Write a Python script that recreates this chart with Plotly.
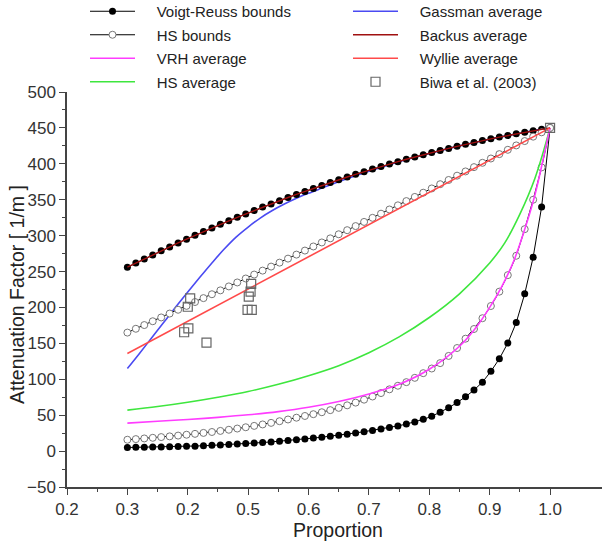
import plotly.graph_objects as go

# Sampling grid of the bound curves (proportion)
PROPORTION = [0.300, 0.314, 0.328, 0.342, 0.356, 0.370, 0.384, 0.398, 0.412, 0.426,
              0.440, 0.454, 0.468, 0.482, 0.496, 0.510, 0.524, 0.538, 0.552, 0.566,
              0.580, 0.594, 0.608, 0.622, 0.636, 0.650, 0.664, 0.678, 0.692, 0.706,
              0.720, 0.734, 0.748, 0.762, 0.776, 0.790, 0.804, 0.818, 0.832, 0.846,
              0.860, 0.874, 0.888, 0.902, 0.916, 0.930, 0.944, 0.958, 0.972, 0.986,
              1.000]

VOIGT_UPPER = [256.0, 261.8, 267.6, 273.2, 278.8, 284.3, 289.8, 295.1, 300.4, 305.6,
               310.7, 315.7, 320.6, 325.5, 330.3, 335.0, 339.7, 344.2, 348.7, 353.1,
               357.4, 361.6, 365.8, 369.9, 373.9, 377.8, 381.6, 385.4, 389.1, 392.7,
               396.2, 399.6, 403.0, 406.3, 409.5, 412.6, 415.7, 418.6, 421.5, 424.3,
               427.1, 429.7, 432.3, 434.8, 437.2, 439.5, 441.8, 443.9, 446.0, 448.1,
               450.0]

REUSS_LOWER = [5.0, 5.2, 5.4, 5.6, 5.8, 6.0, 6.3, 6.6, 6.9, 7.4,
               8.0, 8.5, 9.1, 9.7, 10.4, 11.1, 11.9, 12.8, 13.7, 14.7,
               15.8, 16.9, 18.1, 19.4, 20.7, 22.0, 23.6, 25.3, 27.0, 28.8,
               30.7, 32.8, 35.1, 37.6, 40.6, 44.2, 48.4, 54.0, 60.3, 67.6,
               75.6, 85.0, 96.0, 111.0, 128.5, 150.5, 179.0, 219.0, 270.0, 340.0,
               450.0]

HS_UPPER = [165.0, 170.3, 175.5, 180.8, 186.1, 191.5, 196.8, 202.2, 207.6, 213.0,
            218.4, 223.8, 229.3, 234.8, 240.3, 245.8, 251.3, 256.9, 262.4, 268.0,
            273.6, 279.2, 284.9, 290.5, 296.2, 301.9, 307.6, 313.3, 319.1, 324.8,
            330.6, 336.4, 342.2, 348.1, 353.9, 359.8, 365.7, 371.6, 377.5, 383.5,
            389.4, 395.4, 401.4, 407.4, 413.5, 419.5, 425.6, 431.7, 437.8, 443.9,
            450.0]

HS_LOWER = [15.8, 16.7, 17.6, 18.5, 19.5, 20.5, 21.6, 22.8, 24.0, 25.3,
            26.6, 28.1, 29.7, 31.4, 33.2, 35.1, 37.1, 39.3, 41.6, 44.0,
            46.5, 48.9, 51.4, 54.1, 57.0, 60.2, 63.7, 67.5, 71.6, 76.0,
            80.8, 86.0, 91.0, 96.0, 102.0, 108.5, 115.0, 122.5, 132.5, 143.5,
            156.5, 170.0, 185.0, 202.0, 222.0, 245.0, 272.0, 309.0, 350.0, 395.0,
            450.0]

# Averages (smooth lines)
VRH_X = [0.30, 0.35, 0.40, 0.45, 0.50, 0.55, 0.60, 0.65, 0.70, 0.75, 0.80, 0.85,
         0.88, 0.90, 0.92, 0.94, 0.96, 0.975, 0.99, 1.00]
VRH_Y = [39.0, 41.5, 44.0, 47.0, 50.5, 55.0, 61.0, 69.0, 79.5, 93.0, 114.0, 146.0,
         175.0, 200.0, 229.0, 265.0, 314.0, 357.0, 412.0, 450.0]

HSAVG_X = [0.30, 0.35, 0.40, 0.45, 0.50, 0.55, 0.60, 0.65, 0.70, 0.75, 0.80, 0.85,
           0.90, 0.925, 0.95, 0.975, 1.00]
HSAVG_Y = [57.0, 62.0, 68.0, 75.0, 83.0, 93.0, 105.0, 119.0, 137.0, 159.0, 186.0, 219.0,
           262.0, 290.0, 330.0, 380.0, 450.0]

GASSMAN_X = [0.30, 0.32, 0.34, 0.36, 0.38, 0.40, 0.42, 0.44, 0.46, 0.48, 0.50, 0.52,
             0.54, 0.56, 0.58, 0.60, 0.62, 0.65, 0.70, 0.75, 0.80, 0.85, 0.90, 0.95, 1.00]
GASSMAN_Y = [115.0, 136.0, 157.5, 179.0, 200.5, 221.5, 242.0, 262.0, 281.0, 298.0, 312.0,
             324.5, 335.0, 344.0, 352.0, 359.0, 365.5, 375.0, 389.5, 403.0, 414.5, 425.0,
             434.3, 442.6, 450.0]

BACKUS_Y = VOIGT_UPPER

WYLLIE_X = [0.30, 0.65, 1.00]
WYLLIE_Y = [136.0, 293.0, 450.0]

# Biwa et al. (2003) measurements
BIWA_X = [0.404, 0.400, 0.401, 0.394, 0.431, 0.505, 0.504, 0.501, 0.499, 0.506, 1.000]
BIWA_Y = [212.7, 201.0, 171.0, 165.5, 151.0, 232.7, 222.0, 215.0, 196.5, 196.5, 450.0]

X_TICKS = [0.2, 0.3, 0.4, 0.5, 0.6, 0.7, 0.8, 0.9, 1.0]
X_TICK_TEXT = ["0.2", "0.3", "0.2", "0.5", "0.6", "0.7", "0.8", "0.9", "1.0"]
X_MINOR = [0.25, 0.35, 0.45, 0.55, 0.65, 0.75, 0.85, 0.95]

FONT = "Liberation Sans, Arial, sans-serif"
AXIS_COLOR = "#444444"
GAP = "\u00a0" * 4  # extra room between legend glyph and label

# figure geometry (pixels)
W, H = 602, 545
M_L, M_R, M_T, M_B = 67, 0, 92, 58
PLOT_W = W - M_L - M_R
PLOT_H = H - M_T - M_B


def label(text):
    return GAP + text


fig = go.Figure()

fig.add_trace(go.Scatter(
    x=GASSMAN_X, y=GASSMAN_Y, mode="lines", name=label("Gassman average"),
    line=dict(color="#4a4af2", width=1.6, shape="spline"),
    legend="legend2", legendrank=1, legendgroup="g"))

fig.add_trace(go.Scatter(
    x=PROPORTION, y=VOIGT_UPPER, mode="lines+markers", name=label("Voigt-Reuss bounds"),
    line=dict(color="black", width=1),
    marker=dict(symbol="circle", size=7, color="black"),
    legend="legend", legendrank=1, legendgroup="vr"))
fig.add_trace(go.Scatter(
    x=PROPORTION, y=REUSS_LOWER, mode="lines+markers", name=label("Voigt-Reuss bounds"),
    line=dict(color="black", width=1),
    marker=dict(symbol="circle", size=7, color="black"),
    legend="legend", legendgroup="vr", showlegend=False))

fig.add_trace(go.Scatter(
    x=PROPORTION, y=HS_UPPER, mode="lines+markers", name=label("HS bounds"),
    line=dict(color="black", width=1),
    marker=dict(symbol="circle", size=7, color="white",
                line=dict(color="#777777", width=1)),
    legend="legend", legendrank=2, legendgroup="hs"))
fig.add_trace(go.Scatter(
    x=PROPORTION, y=HS_LOWER, mode="lines+markers", name=label("HS bounds"),
    line=dict(color="black", width=1),
    marker=dict(symbol="circle", size=7, color="white",
                line=dict(color="#777777", width=1)),
    legend="legend", legendgroup="hs", showlegend=False))

fig.add_trace(go.Scatter(
    x=HSAVG_X, y=HSAVG_Y, mode="lines", name=label("HS average"),
    line=dict(color="#3ee63e", width=1.6, shape="spline"),
    legend="legend", legendrank=4, legendgroup="ha"))

fig.add_trace(go.Scatter(
    x=VRH_X, y=VRH_Y, mode="lines", name=label("VRH average"),
    line=dict(color="#ff3cff", width=1.6, shape="spline"),
    legend="legend", legendrank=3, legendgroup="vrh"))

fig.add_trace(go.Scatter(
    x=PROPORTION, y=BACKUS_Y, mode="lines", name=label("Backus average"),
    line=dict(color="#a01010", width=1.4),
    legend="legend2", legendrank=2, legendgroup="b"))

fig.add_trace(go.Scatter(
    x=WYLLIE_X, y=WYLLIE_Y, mode="lines", name=label("Wyllie average"),
    line=dict(color="#ff4a4a", width=1.6),
    legend="legend2", legendrank=3, legendgroup="w"))

fig.add_trace(go.Scatter(
    x=BIWA_X, y=BIWA_Y, mode="markers", name=label("Biwa et al. (2003)"),
    marker=dict(symbol="square-open", size=9, color="#666666",
                line=dict(width=1.2)),
    legend="legend2", legendrank=4, legendgroup="bw"))

legend_top = 1 + (M_T + 5) / PLOT_H
legend_common = dict(
    yref="paper", xanchor="left", yanchor="top",
    bgcolor="rgba(0,0,0,0)", borderwidth=0,
    font=dict(family=FONT, size=15, color="#222222"),
    tracegroupgap=1, itemwidth=45, traceorder="grouped",
)

title_font = dict(family=FONT, size=19.5, color="#222222")

fig.update_layout(
    width=W, height=H,
    margin=dict(l=M_L, r=M_R, t=M_T, b=M_B, autoexpand=False),
    paper_bgcolor="white", plot_bgcolor="white",
    font=dict(family=FONT, color="#333333"),
    showlegend=True,
    legend=dict(xref="container", x=85 / W, y=legend_top, **legend_common),
    legend2=dict(xref="container", x=348 / W, y=legend_top, **legend_common),
    xaxis=dict(
        range=[0.2, 1.086], tickmode="array", tickvals=X_TICKS, ticktext=X_TICK_TEXT,
        ticks="outside", ticklen=6, tickwidth=1.3, tickcolor=AXIS_COLOR,
        showline=True, linecolor=AXIS_COLOR, linewidth=1.5,
        showgrid=False, zeroline=False,
        tickfont=dict(family=FONT, size=17, color="#333333"),
        minor=dict(tickmode="array", tickvals=X_MINOR, ticks="outside",
                   ticklen=3, tickwidth=1.3, tickcolor=AXIS_COLOR, showgrid=False),
    ),
    yaxis=dict(
        range=[-50, 500], tickmode="linear", tick0=0, dtick=50,
        ticks="outside", ticklen=6, tickwidth=1.3, tickcolor=AXIS_COLOR,
        showline=True, linecolor=AXIS_COLOR, linewidth=1.5,
        showgrid=False, zeroline=False,
        tickfont=dict(family=FONT, size=17, color="#333333"),
        minor=dict(dtick=25, ticks="outside", ticklen=3, tickwidth=1.3,
                   tickcolor=AXIS_COLOR, showgrid=False),
    ),
    annotations=[
        dict(text="Proportion", xref="paper", yref="paper",
             x=(338 - M_L) / PLOT_W, y=-(530 - (H - M_B)) / PLOT_H,
             xanchor="center", yanchor="middle", showarrow=False, font=title_font),
        dict(text="Attenuation Factor [ 1/m ]", xref="paper", yref="paper",
             x=(17 - M_L) / PLOT_W, y=((H - M_B) - 295) / PLOT_H, textangle=-90,
             xanchor="center", yanchor="middle", showarrow=False, font=title_font),
    ],
)

fig.write_html("out.html")
